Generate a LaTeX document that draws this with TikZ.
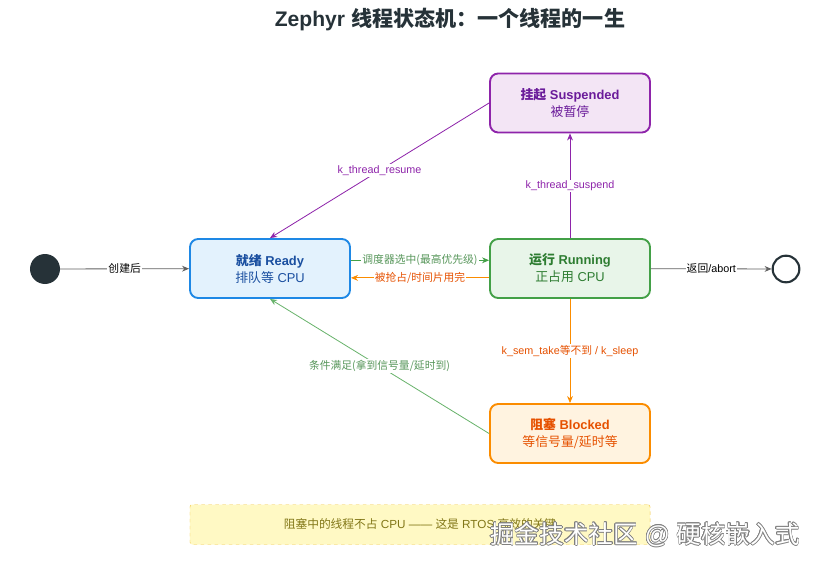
\documentclass[tikz,border=0pt]{standalone}
\usepackage{fontspec}
\setmainfont{Liberation Sans}
\newfontfamily\cjk{Noto Sans CJK SC}
\newcommand{\zh}[1]{{\cjk #1}}
\usepackage{contour}
\usetikzlibrary{arrows.meta,positioning}
\definecolor{inkdark}{HTML}{263238}
\definecolor{edgegray}{HTML}{616161}
\definecolor{readyline}{HTML}{1E88E5}
\definecolor{readyfill}{HTML}{E3F2FD}
\definecolor{readytext}{HTML}{1A4FA0}
\definecolor{runline}{HTML}{43A047}
\definecolor{runfill}{HTML}{E8F5E9}
\definecolor{runtext}{HTML}{2E7D32}
\definecolor{susline}{HTML}{8E24AA}
\definecolor{susfill}{HTML}{F3E5F5}
\definecolor{sustext}{HTML}{6A1B9A}
\definecolor{blkline}{HTML}{FB8C00}
\definecolor{blkfill}{HTML}{FFF3E0}
\definecolor{blktext}{HTML}{E65100}
\definecolor{notefill}{HTML}{FFF9C4}
\definecolor{noteline}{HTML}{F2C94C}
\definecolor{notetext}{HTML}{827717}
\contourlength{0.5pt}

\begin{document}
\begin{tikzpicture}[x=0.03cm,y=-0.03cm,>={Stealth[length=6pt,width=5pt]},
  state/.style={draw,line width=1.6pt,rounded corners=7pt,minimum width=4.8cm,
    minimum height=1.77cm,align=center,font=\fontsize{11}{14.5}\selectfont},
  tr/.style={->,line width=0.7pt},
  lbl/.style={fill=white,inner sep=1pt,font=\fontsize{9.2}{10}\selectfont}]
  \useasboundingbox (0,0) rectangle (818,567);
  \node[inkdark,font=\fontsize{18}{21}\selectfont\bfseries] (title) at (450,20)
      {Zephyr \zh{线程状态机：一个线程的一生}};
  % states
  \node[state,draw=readyline,fill=readyfill,text=readytext] (ready) at (270,268.5)
      {\textbf{\zh{就绪} Ready}\\\zh{排队等} CPU};
  \node[state,draw=runline,fill=runfill,text=runtext] (running) at (570,268.5)
      {\textbf{\zh{运行} Running}\\\zh{正占用} CPU};
  \node[state,draw=susline,fill=susfill,text=sustext] (suspended) at (570,103)
      {\textbf{\zh{挂起} Suspended}\\\zh{被暂停}};
  \node[state,draw=blkline,fill=blkfill,text=blktext] (blocked) at (570,433.5)
      {\textbf{\zh{阻塞} Blocked}\\\zh{等信号量/延时等}};
  \node[circle,fill=inkdark,minimum size=0.9cm,inner sep=0pt] (start) at (45,269) {};
  \node[circle,draw=inkdark,line width=1.8pt,fill=white,minimum size=0.8cm,inner sep=0pt]
      (stop) at (786,269) {};
  % transitions
  \draw[tr,edgegray] (start) -- node[lbl,text=black] {\zh{创建后}} (ready);
  \draw[tr,runline] ([yshift=7pt]ready.east) -- node[lbl,text=runtext!80] {\zh{调度器选中(最高优先级)}}
      ([yshift=7pt]running.west);
  \draw[tr,blkline] ([yshift=-8pt]running.west) -- node[lbl,text=blktext] {\zh{被抢占/时间片用完}}
      ([yshift=-8pt]ready.east);
  \draw[tr,edgegray] (running) -- node[lbl,text=black] {\zh{返回}/abort} (stop);
  \draw[tr,susline] (running) -- node[lbl,text=susline] {k\_thread\_suspend} (suspended);
  \draw[tr,susline] (suspended.west) -- node[lbl,text=susline] {k\_thread\_resume} (ready.north);
  \draw[tr,blkline] (running) -- node[lbl,text=blktext] {k\_sem\_take\zh{等不到} / k\_sleep} (blocked);
  \draw[tr,runline!80] (blocked.west) -- node[lbl,text=runtext!80] {\zh{条件满足(拿到信号量/延时到)}}
      (ready.south);
  % footnote
  \node[draw=noteline,dashed,fill=notefill,rounded corners=2pt,minimum width=13.8cm,
    minimum height=1.2cm,text=notetext,font=\fontsize{10}{11}\selectfont] (note) at (420,524.5)
      {\zh{阻塞中的线程不占} CPU —— \zh{这是} RTOS \zh{高效的关键}};
  \node[font=\fontsize{21}{24}\selectfont,text=white] (mark) at (645,535)
      {\contour{gray}{\zh{掘金技术社区} @ \zh{硬核嵌入式}}};
\end{tikzpicture}
\end{document}
